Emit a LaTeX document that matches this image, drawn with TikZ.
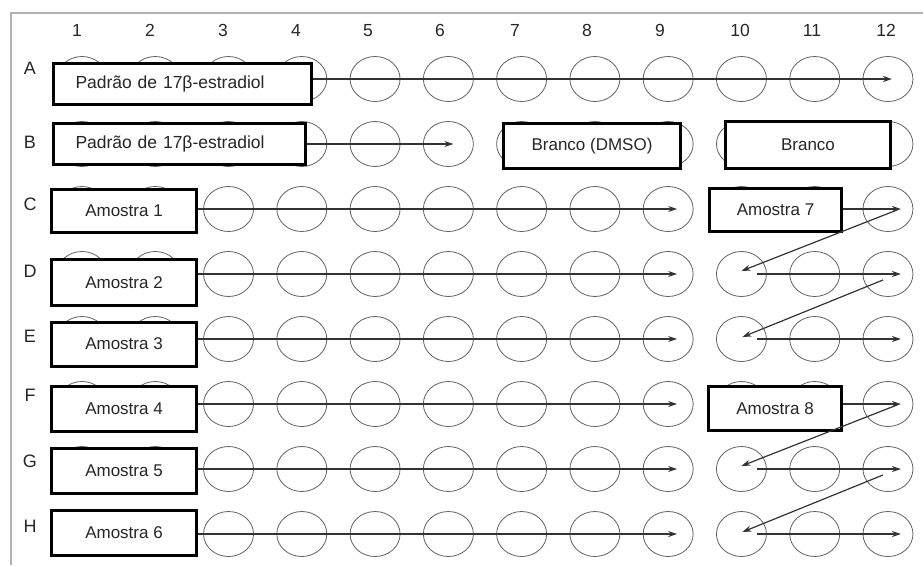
\documentclass[tikz,border=0pt]{standalone}
\usepackage{fontspec}
\setmainfont{Liberation Sans}
\usetikzlibrary{shapes.geometric,arrows.meta}
\tikzset{
  well/.style={ellipse, draw=black!62, line width=0.8pt, minimum width=50pt, minimum height=45pt, inner sep=0pt},
  labelbox/.style={draw=black, line width=3pt, fill=white, inner sep=0pt, font=\fontsize{17}{20}\selectfont, text=black!85},
  stdbox/.style={labelbox, font=\fontsize{17.5}{20}\selectfont, align=left, inner xsep=22pt, text width=214pt},
  arr/.style={draw=black!80, line width=1.2pt, -{Stealth[length=9pt,width=6pt]}},
  hdr/.style={font=\fontsize{17.5}{20}\selectfont, text=black!85, inner sep=0pt, anchor=base},
  framecol/.style={draw=black!30, line width=2pt}
}
\begin{document}
\begin{tikzpicture}[x=1pt,y=-1pt]
\useasboundingbox (0,0) rectangle (923,565);
% frame
\draw[framecol] (10.5,565) -- (10.5,12.5) -- (923,12.5);
% wells
\foreach \r [count=\j] in {A,B,C,D,E,F,G,H}{
  \foreach \c in {1,...,12}{
    \node[well] (w-\r-\c) at ({82+73.27*(\c-1)},{79+65*(\j-1)}) {};
  }
}
% column headers
\foreach \c/\x in {1/77,2/150,3/223,4/296,5/368,6/440,7/515,8/587,9/660,10/740,11/812,12/886}{
  \node[hdr] (col-\c) at (\x,36) {\c};
}
% row headers
\foreach \r/\y in {A/68,B/142,C/204,D/271,E/336,F/395,G/461,H/526}{
  \node[hdr, font=\fontsize{18}{21}\selectfont] (row-\r) at (30,\y+6.5) {\r};
}
% boxes
\node[stdbox, minimum height=41pt] (bA) at (182.5,83.5) {\raisebox{-2pt}{Padrão de 17β-estradiol}};
\node[stdbox, text width=208pt, minimum height=41pt] (bB) at (179.5,143.5) {\raisebox{-1pt}{Padrão de 17β-estradiol}};
\node[labelbox, minimum width=145pt, minimum height=43pt] (bC) at (124,210.5) {Amostra 1};
\node[labelbox, minimum width=145pt, minimum height=46pt] (bD) at (124,282.5) {Amostra 2};
\node[labelbox, minimum width=145pt, minimum height=44pt] (bE) at (124,344) {Amostra 3};
\node[labelbox, minimum width=145pt, minimum height=45pt] (bF) at (124,408.5) {Amostra 4};
\node[labelbox, minimum width=145pt, minimum height=45pt] (bG) at (124,470.5) {Amostra 5};
\node[labelbox, minimum width=145pt, minimum height=45pt] (bH) at (124,533) {Amostra 6};
\node[labelbox, minimum width=177pt, minimum height=45pt] (bDMSO) at (592,146) {Branco (DMSO)};
\node[labelbox, minimum width=165pt, minimum height=47pt] (bBr) at (808,145) {Branco};
\node[labelbox, minimum width=132pt, minimum height=43pt] (b7) at (775.5,210) {Amostra 7};
\node[labelbox, minimum width=133pt, minimum height=44pt] (b8) at (775,408.5) {Amostra 8};
% arrows
\draw[arr] (bA.east |- w-A-12) -- ([xshift=4pt]w-A-12.center);
\draw[arr] (bB.east |- w-B-6) -- ([xshift=5pt]w-B-6.center);
\foreach \r in {C,D,E,F,G,H}{
  \draw[arr] (b\r.east |- w-\r-9) -- ([xshift=9pt]w-\r-9.center);
}
% zig-zag for Amostra 7 and 8
\foreach \a/\b/\c/\bx in {C/D/E/b7,F/G/H/b8}{
  \draw[arr] (\bx.east |- w-\a-12) -- ([xshift=13pt]w-\a-12.center);
  \draw[arr] ([xshift=9pt,yshift=-1pt]w-\a-12.center) -- ([xshift=0pt,yshift=3pt]w-\b-10.center);
  \draw[arr] ([xshift=16pt]w-\b-10.center) -- ([xshift=13pt]w-\b-12.center);
  \draw[arr] ([xshift=-5pt,yshift=-6pt]w-\b-12.center) -- ([xshift=1pt,yshift=2pt]w-\c-10.center);
  \draw[arr] ([xshift=16pt]w-\c-10.center) -- ([xshift=13pt]w-\c-12.center);
}
\end{tikzpicture}
\end{document}
